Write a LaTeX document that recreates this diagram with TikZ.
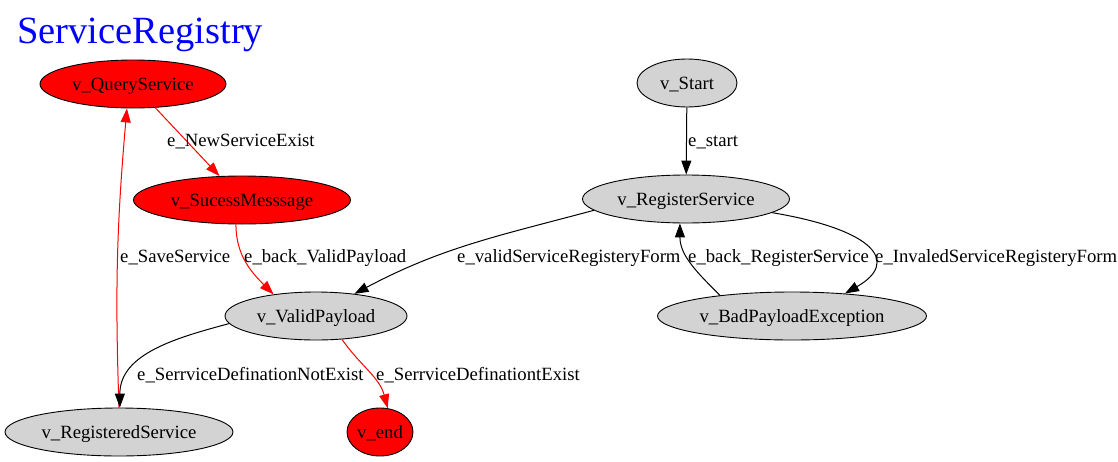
\documentclass[tikz,border=0pt]{standalone}
\usepackage{fontspec}
\setmainfont{Liberation Serif}
\usetikzlibrary{shapes.geometric,arrows.meta}
\definecolor{nodegray}{HTML}{D3D3D3}
\begin{document}
\begin{tikzpicture}[x=1pt,y=1pt,
        state/.style={ellipse,draw=black,line width=0.9pt,fill=nodegray,inner sep=0pt,minimum height=48pt,text height=13pt,text depth=0pt,font=\fontsize{18.7}{20}\selectfont},
        hot/.style={state,fill=red},
        edge/.style={line width=1pt,-{Triangle[length=14pt,width=10pt]}},
        redge/.style={edge,red},
        elabel/.style={anchor=west,inner sep=0pt,font=\fontsize{18.7}{20}\selectfont}]
        \useasboundingbox (0,0) rectangle (1118,-461);
        %% Title
        \node[anchor=base west,inner sep=0pt,text=blue,font=\fontsize{38.5}{40}\selectfont] (title) at (17,-43) {ServiceRegistry};
        %% States
        \node[hot,minimum width=186pt] (vquery) at (133,-84) {v\_QueryService};
        \node[hot,minimum width=217pt] (vsuccess) at (242,-200) {v\_SucessMesssage};
        \node[state,minimum width=182pt] (vvalid) at (316,-316) {v\_ValidPayload};
        \node[state,minimum width=228pt] (vregd) at (119,-432) {v\_RegisteredService};
        \node[hot,minimum width=66pt] (vend) at (380,-432) {v\_end};
        \node[state,minimum width=100pt] (vstart) at (687,-83) {v\_Start};
        \node[state,minimum width=207pt] (vreg) at (686,-199) {v\_RegisterService};
        \node[state,minimum width=269pt] (vbad) at (792,-316) {v\_BadPayloadException};
        %% Transitions
        \draw[redge] (vquery) -- (vsuccess);
        \draw[redge] (vsuccess.-104) to[out=-90,in=135] (vvalid.153);
        \draw[redge] (vregd.north) to[out=92,in=-95] (vquery.-104);
        \draw[edge] (vvalid.185) to[out=195,in=90] (vregd.88);
        \draw[redge] (vvalid.-42) to[out=-55,in=105] (vend.72);
        \draw[edge] (vstart) -- (vreg);
        \draw[edge] (vreg.187) to[out=195,in=28] (vvalid.30);
        \draw[edge] (vbad.164) to[out=135,in=-90] (vreg.-104);
        \draw[edge] (vreg.-9) .. controls (875,-230) and (900,-262) .. (vbad.23);
        %% Labels
        \node[elabel] (lnew) at (167,-142) {e\_NewServiceExist};
        \node[elabel] (lstart) at (688,-142) {e\_start};
        \node[elabel] (lsave) at (120,-258) {e\_SaveService};
        \node[elabel] (lbackvalid) at (244,-258) {e\_back\_ValidPayload};
        \node[elabel] (lvalidform) at (457,-258) {e\_validServiceRegisteryForm};
        \node[elabel] (lbackreg) at (688,-258) {e\_back\_RegisterService};
        \node[elabel] (linvalid) at (875,-258) {e\_InvaledServiceRegisteryForm};
        \node[elabel] (lnotexist) at (137,-375) {e\_SerrviceDefinationNotExist};
        \node[elabel] (lexist) at (376,-375) {e\_SerrviceDefinationtExist};
\end{tikzpicture}
\end{document}
